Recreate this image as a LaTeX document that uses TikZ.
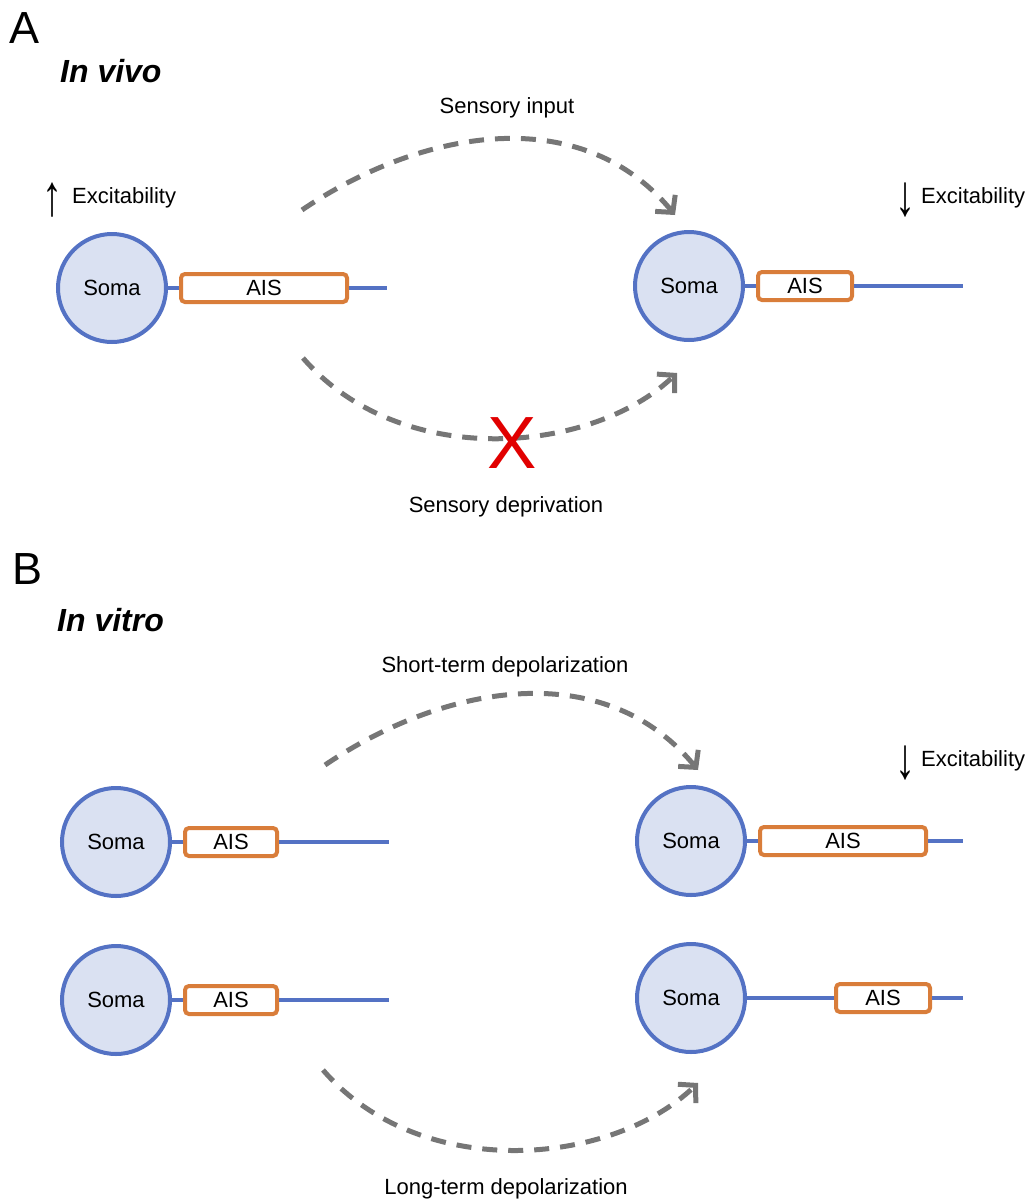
\documentclass[tikz,border=0pt]{standalone}
\usepackage{fontspec}
\setmainfont{Liberation Sans}
\usepackage{tikz}
\usetikzlibrary{arrows.meta,positioning}
\definecolor{somablue}{RGB}{84,114,196}
\definecolor{somafill}{RGB}{218,225,242}
\definecolor{aisorange}{RGB}{217,125,58}
\definecolor{arcgray}{RGB}{118,118,118}
\definecolor{xred}{RGB}{225,0,0}
\newcommand{\excarrow}[1]{\raisebox{-12pt}{\fontsize{40}{40}\selectfont\scalebox{1}[1.45]{#1}}}

\begin{document}
\begin{tikzpicture}[
  x=1pt, y=-1pt,
  node distance=11pt,
  soma/.style={circle, draw=somablue, fill=somafill, line width=4pt, minimum size=108pt, inner sep=0pt, font=\fontsize{22}{26}\selectfont},
  ais/.style={rectangle, rounded corners=4pt, draw=aisorange, fill=white, line width=4pt, minimum height=28pt, inner sep=0pt, font=\fontsize{22}{26}\selectfont},
  axon/.style={somablue, line width=4pt},
  arr/.style={arcgray, line width=5pt, dash pattern=on 15pt off 11pt, -{Straight Barb[length=12pt, width=26pt]}},
  lbl/.style={font=\fontsize{22}{26}\selectfont, inner sep=0pt},
  panel/.style={font=\fontsize{45}{50}\selectfont, inner sep=0pt, anchor=base west},
  cond/.style={font=\fontsize{32}{36}\selectfont\bfseries\itshape, inner sep=0pt, anchor=base west}
]
\useasboundingbox (0,0) rectangle (1029,1202);

\node[panel] (labelA) at (9,43) {A};
\node[cond] (invivo) at (60,82) {In vivo};

\node[soma] (somaA1) at (112,288) {Soma};
\node[ais, minimum width=166pt, right=of somaA1] (aisA1) {AIS};
\coordinate (endA1) at (387,288);

\node[soma] (somaA2) at (689,286) {Soma};
\node[ais, minimum width=94pt, right=of somaA2] (aisA2) {AIS};
\coordinate (endA2) at (963,286);

\draw[axon] (somaA1) -- (aisA1) (aisA1) -- (endA1);
\draw[axon] (somaA2) -- (aisA2) (aisA2) -- (endA2);

\node[lbl, anchor=base west] (excA1) at (42,203) {\excarrow{↑}\hspace{10pt}Excitability};
\node[lbl, anchor=base west] (excA2) at (895,203) {\excarrow{↓}\hspace{6pt}Excitability};

\coordinate (inputS) at (302,210);
\coordinate (inputE) at (675,215);
\draw[arr] (inputS) .. controls (420,130) and (580,100) .. (inputE);
\node[lbl, anchor=base] (inputlbl) at (507,113) {Sensory input};

\coordinate (deprivS) at (303,358);
\coordinate (deprivE) at (677,373);
\draw[arr] (deprivS) .. controls (400,470) and (590,455) .. (deprivE);
\node[font=\fontsize{74}{80}\selectfont, text=xred, inner sep=0pt] (cross) at (512,443) {X};
\node[lbl, anchor=base] (deprivlbl) at (506,512) {Sensory deprivation};

\node[panel] (labelB) at (12,584) {B};
\node[cond] (invitro) at (57,631) {In vitro};

\node[soma] (somaB1) at (116,842) {Soma};
\node[ais, minimum width=92pt, right=of somaB1] (aisB1) {AIS};
\coordinate (endB1) at (389,842);

\node[soma] (somaB2) at (116,1000) {Soma};
\node[ais, minimum width=92pt, right=of somaB2] (aisB2) {AIS};
\coordinate (endB2) at (389,1000);

\node[soma] (somaB3) at (691,841) {Soma};
\node[ais, minimum width=166pt, right=of somaB3] (aisB3) {AIS};
\coordinate (endB3) at (963,841);

\node[soma] (somaB4) at (691,998) {Soma};
\node[ais, minimum width=94pt, right=87pt of somaB4] (aisB4) {AIS};
\coordinate (endB4) at (963,998);

\draw[axon] (somaB1) -- (aisB1) (aisB1) -- (endB1);
\draw[axon] (somaB2) -- (aisB2) (aisB2) -- (endB2);
\draw[axon] (somaB3) -- (aisB3) (aisB3) -- (endB3);
\draw[axon] (somaB4) -- (aisB4) (aisB4) -- (endB4);

\node[lbl, anchor=base west] (excB3) at (895,766) {\excarrow{↓}\hspace{6pt}Excitability};

\coordinate (shortS) at (325,765);
\coordinate (shortE) at (698,770);
\draw[arr] (shortS) .. controls (443,685) and (603,655) .. (shortE);
\node[lbl, anchor=base] (shortlbl) at (505,672) {Short-term depolarization};

\coordinate (longS) at (323,1070);
\coordinate (longE) at (698,1083);
\draw[arr] (longS) .. controls (420,1182) and (610,1167) .. (longE);
\node[lbl, anchor=base] (longlbl) at (506,1194) {Long-term depolarization};
\end{tikzpicture}
\end{document}
